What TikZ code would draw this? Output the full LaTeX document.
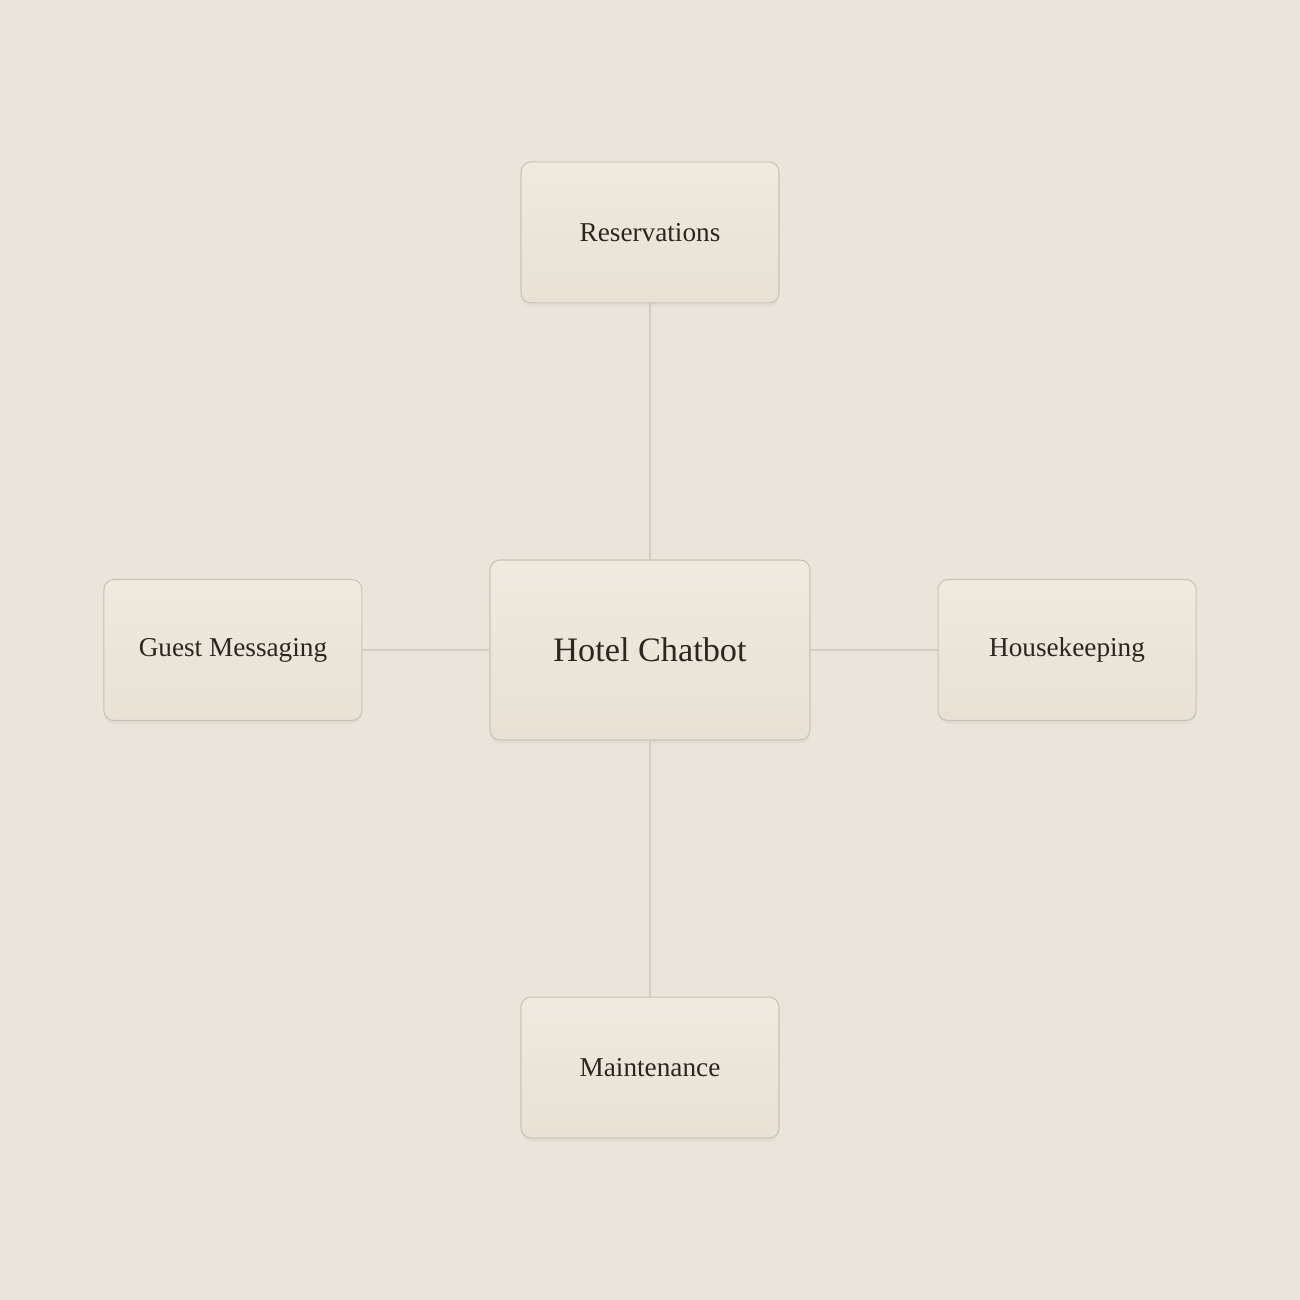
\documentclass[tikz,border=0pt]{standalone}
\usepackage{fontspec}
\setmainfont{Liberation Serif}
\usepackage{tikz}
\usetikzlibrary{positioning,shadows}
\definecolor{paper}{HTML}{EAE5DA}
\definecolor{boxtop}{HTML}{EFE9DF}
\definecolor{boxbot}{HTML}{E8E1D4}
\definecolor{boxline}{HTML}{C9C2B7}
\definecolor{wire}{HTML}{D2CCC2}
\definecolor{ink}{HTML}{2A2620}

\begin{document}
\begin{tikzpicture}[font=\fontsize{15.5}{18}\selectfont]
        \tikzstyle{card}=[rectangle,rounded corners=0.2cm,draw=boxline,line width=0.6pt,
            top color=boxtop,bottom color=boxbot,text=ink,
            drop shadow={opacity=0.07,shadow xshift=0pt,shadow yshift=-2pt},
            minimum width=5.16cm,minimum height=2.82cm,inner sep=0pt]
        \tikzstyle{hub card}=[card,minimum width=6.4cm,minimum height=3.6cm,font=\fontsize{19.5}{23}\selectfont]
        \tikzstyle{wire}=[draw=wire,line width=0.6pt]

        \fill[paper] (0,0) rectangle (26,26);
        \useasboundingbox (0,0) rectangle (26,26);

        \node(hub)[hub card] at (13,13){Hotel Chatbot};
        \node(res)[card,above=5.12cm of hub]{Reservations};
        \node(maint)[card,below=5.12cm of hub]{Maintenance};
        \node(guest)[card,left=2.54cm of hub]{Guest Messaging};
        \node(house)[card,right=2.54cm of hub]{Housekeeping};

        \draw[wire] (hub.north) -- (res.south);
        \draw[wire] (hub.south) -- (maint.north);
        \draw[wire] (hub.west) -- (guest.east);
        \draw[wire] (hub.east) -- (house.west);
    \end{tikzpicture}
\end{document}
